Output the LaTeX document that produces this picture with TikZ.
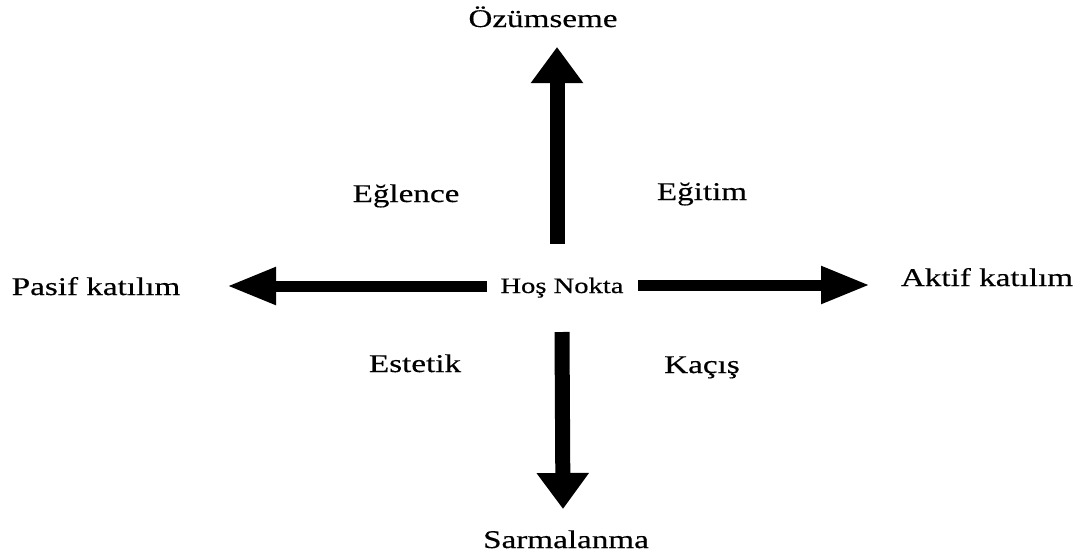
\documentclass[tikz,border=0pt]{standalone}
\usepackage{fontspec}
\setmainfont{Liberation Serif}[FakeStretch=1.3,FakeBold=0.4]
\usetikzlibrary{arrows.meta}
\begin{document}
\begin{tikzpicture}[x=1pt,y=-1pt,
  lbl/.style={anchor=base, inner sep=0pt, font=\fontsize{25.5}{30}\selectfont},
  hub/.style={anchor=base, inner sep=0pt, font=\fontsize{22}{26}\selectfont},
  vertarrow/.style={line width=15pt, -{Triangle[length=36pt,width=50pt]}},
  sidearrow/.style={line width=11pt, -{Triangle[length=49pt,width=35pt]}}]
\useasboundingbox (0,0) rectangle (1084,555);
\fill[white] (0,0) rectangle (1084,555);
% hub
\node[hub] (hub) at (562,293) {Hoş Nokta};
% arrow ends
\coordinate (upS) at (557,244);
\coordinate (upT) at (557,47);
\coordinate (dnS) at (562,332);
\coordinate (dnT) at (563,509);
\coordinate (lfS) at (487,286);
\coordinate (lfT) at (227,286);
\coordinate (rtS) at (638,285);
\coordinate (rtT) at (870,285);
\draw[vertarrow] (upS) -- (upT);
\draw[vertarrow] (dnS) -- (dnT);
\draw[sidearrow] (lfS) -- (lfT);
\draw[sidearrow] (rtS) -- (rtT);
% labels
\node[lbl] (top) at (543,27) {Özümseme};
\node[lbl] (bottom) at (566,548) {Sarmalanma};
\node[lbl] (left) at (96,295) {Pasif katılım};
\node[lbl] (right) at (987,286) {Aktif katılım};
\node[lbl] (q1) at (406,202) {Eğlence};
\node[lbl] (q2) at (702,200) {Eğitim};
\node[lbl] (q3) at (415,372) {Estetik};
\node[lbl] (q4) at (702,373) {Kaçış};
\end{tikzpicture}
\end{document}
